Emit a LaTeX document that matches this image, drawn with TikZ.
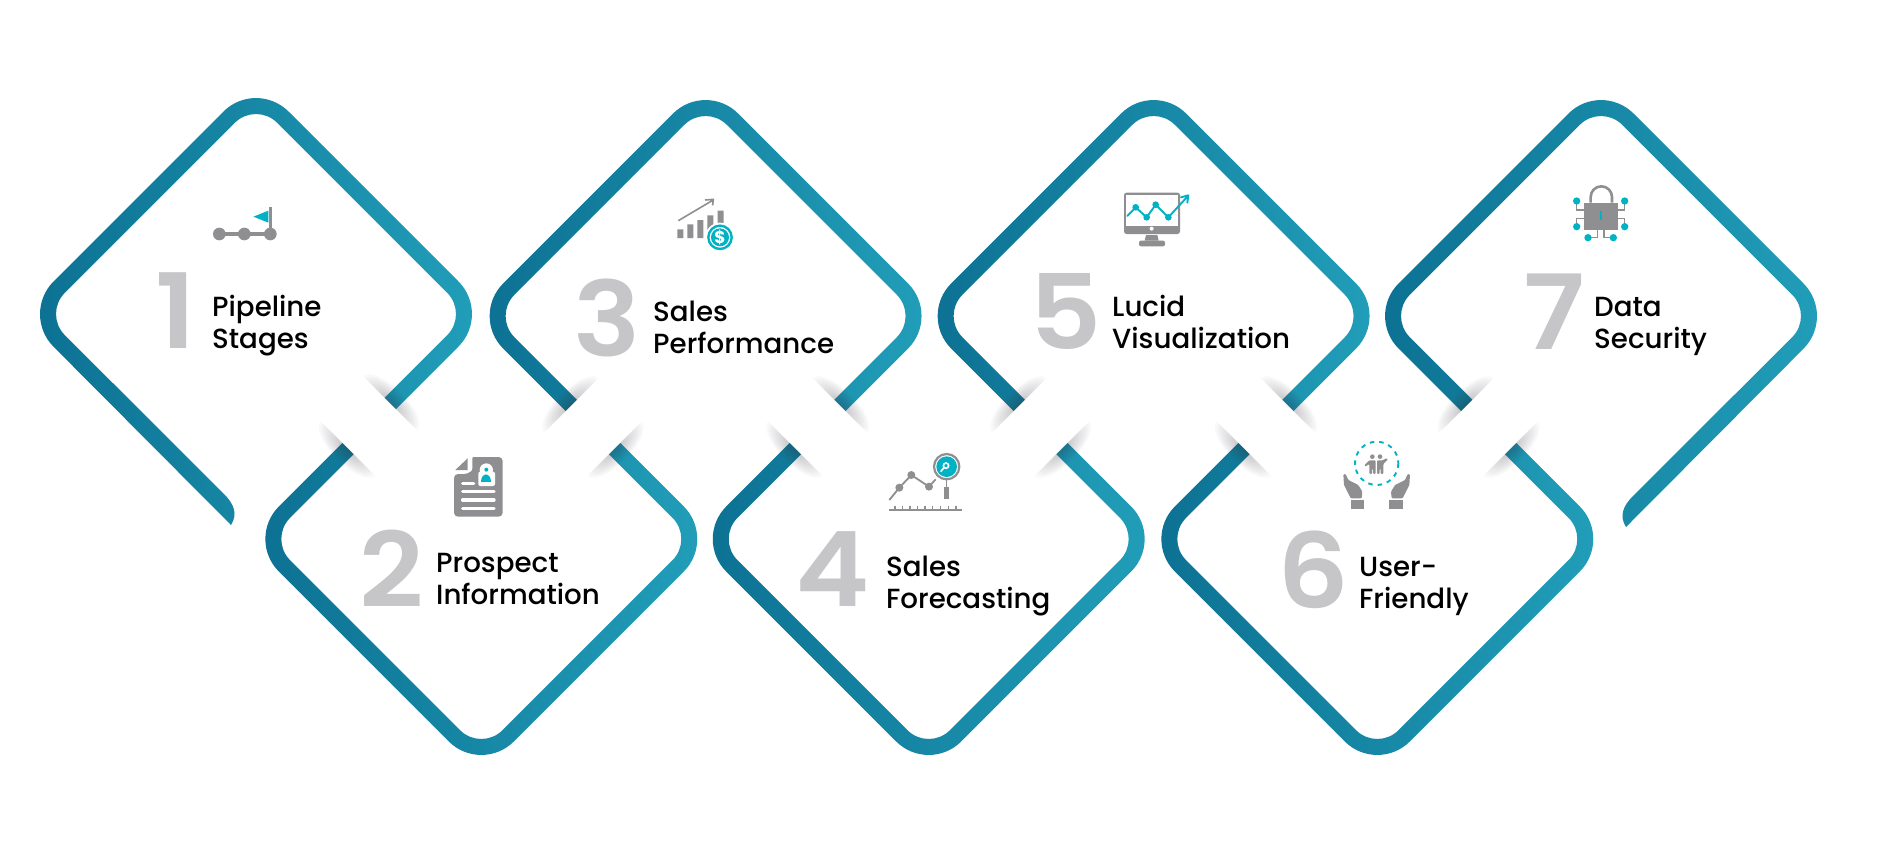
\documentclass[tikz,border=0pt]{standalone}
\usepackage{fontspec}
\setmainfont{Poppins}
\newfontfamily\labfont{Poppins Medium}
\newfontfamily\numfont{Poppins SemiBold}[FakeStretch=1.08]
\definecolor{bandL}{HTML}{0C7092}
\definecolor{bandR}{HTML}{229FBA}
\definecolor{numgray}{HTML}{C6C5C8}
\definecolor{icongray}{HTML}{8F8E91}
\definecolor{iconteal}{HTML}{00B2C3}
\definecolor{shadowc}{HTML}{3A3440}
\tikzset{
  bandfill/.style={left color=bandL, right color=bandR, draw=none},
  numlabel/.style={font=\numfont\fontsize{104}{104}\selectfont, text=numgray, anchor=base, inner sep=0pt},
  textlabel/.style={font=\labfont\fontsize{27.7}{32}\selectfont, text=black, anchor=base west, align=left, inner sep=0pt},
  zoomed/.style={x=0.33333pt,y=-0.33333pt},
  gline/.style={draw=icongray, line cap=butt},
  tline/.style={draw=iconteal, line cap=round, line join=round}
}
% soft shadow on the band side of a cut
\newcommand{\cutshade}[4]{%
  \begin{scope}[shift={(#1,#2)},rotate=#3]
    \clip (-60,0) rectangle (60,#4*30);
    \foreach \k in {1,...,12}
      \fill[shadowc, opacity=0.028] (0,0) ellipse [x radius=3.2*\k, y radius=1.25*\k];
  \end{scope}}
% top diamond with a cut on both lower sides
\newcommand{\topband}[2]{%
  \begin{scope}[shift={(#1,#2)}]
    \shade[bandfill] (-140,95) [rounded corners=46] -- (-235,0) -- (0,-235) -- (235,0) [sharp corners] -- (140,95) -- (128.7,83.7) [rounded corners=30] -- (212.4,0) -- (0,-212.4) -- (-212.4,0) [sharp corners] -- (-128.7,83.7) -- cycle;
    \cutshade{134.35}{89.35}{-45}{-1}
    \cutshade{-134.35}{89.35}{45}{-1}
  \end{scope}}
% bottom diamond with a cut on both upper sides
\newcommand{\lowband}[2]{%
  \begin{scope}[shift={(#1,#2)}]
    \shade[bandfill] (-139,-96) [rounded corners=46] -- (-235,0) -- (0,235) -- (235,0) [sharp corners] -- (139,-96) -- (127.7,-84.7) [rounded corners=30] -- (212.4,0) -- (0,212.4) -- (-212.4,0) [sharp corners] -- (-127.7,-84.7) -- cycle;
    \cutshade{-133.35}{-90.35}{-45}{1}
    \cutshade{133.35}{-90.35}{45}{1}
  \end{scope}}
\begin{document}
\begin{tikzpicture}[x=1pt,y=-1pt]
\useasboundingbox (0,0) rectangle (1901,862);
\fill[white] (0,0) rectangle (1901,862);

% first diamond: long tail on the lower left
\begin{scope}[shift={(256,314)}]
  \shade[bandfill] (-25,211) [rounded corners=46] -- (-235,0) -- (0,-235) -- (235,0) [sharp corners] -- (140,95) -- (128.7,83.7) [rounded corners=30] -- (212.4,0) -- (0,-212.4) -- (-212.4,0) [sharp corners] -- (-32,180) .. controls (-22,190) and (-18,200) .. (-25,211) -- cycle;
  \cutshade{134.35}{89.35}{-45}{-1}
\end{scope}
\lowband{481.3}{539}
\topband{705.6}{316}
\lowband{928.7}{539}
\topband{1153.6}{316}
\lowband{1377.3}{539}
% last diamond: long tail on the lower right
\begin{scope}[shift={(1601,316)}]
  \shade[bandfill] (-140,95) [rounded corners=46] -- (-235,0) -- (0,-235) -- (235,0) [sharp corners] -- (25,211) .. controls (18,200) and (22,190) .. (32,180) [rounded corners=30] -- (212.4,0) -- (0,-212.4) -- (-212.4,0) [sharp corners] -- (-128.7,83.7) -- cycle;
  \cutshade{-134.35}{89.35}{45}{-1}
\end{scope}

% numbers
\node[numlabel] (n1) at (176,348) {1};
\node[numlabel] (n2) at (392,607) {2};
\node[numlabel] (n3) at (607,356) {3};
\node[numlabel] (n4) at (833,606) {4};
\node[numlabel] (n5) at (1066,349) {5};
\node[numlabel] (n6) at (1313,608) {6};
\node[numlabel] (n7) at (1554,349) {7};

% labels
\node[textlabel] (t1) at (212,348) {Pipeline\\Stages};
\node[textlabel] (t2) at (436,604) {Prospect\\Information};
\node[textlabel] (t3) at (653,353) {Sales\\Performance};
\node[textlabel] (t4) at (886,608) {Sales\\Forecasting};
\node[textlabel] (t5) at (1112,348) {Lucid\\Visualization};
\node[textlabel] (t6) at (1359,608) {User-\\Friendly};
\node[textlabel] (t7) at (1594,348) {Data\\Security};

% icon 1: pipeline flag
\begin{scope}[shift={(180,180)},zoomed]
  \draw[gline,line width=4pt] (118,162) -- (271,162);
  \draw[gline,line width=3.5pt] (271,162) -- (271,82);
  \fill[icongray] (118,162) circle [radius=19] (193,162) circle [radius=19] (271,162) circle [radius=19];
  \fill[iconteal] (220,110) -- (265,92) -- (265,128) -- cycle;
\end{scope}

% icon 2: prospect sheet
\begin{scope}[shift={(320,370)},zoomed]
  \fill[icongray, rounded corners=4pt] (457,261) -- (548,261) -- (548,440) -- (402,440) -- (402,312) -- (445,312) [rounded corners=1pt] -- (457,300) -- cycle;
  \fill[icongray] (443,265) -- (443,300) -- (406,300) -- cycle;
  \fill[white] (499,300) circle [radius=20];
  \fill[white, rounded corners=2pt] (475,305) rectangle (525,348);
  \fill[iconteal] (499,299) circle [radius=6];
  \fill[iconteal] (484,335) .. controls (484,305) and (514,305) .. (514,335) -- cycle;
  \draw[white, line width=3.4pt, line cap=round] (428,341) -- (461,341) (428,365) -- (522,365) (428,390) -- (522,390) (428,415) -- (522,415);
\end{scope}

% icon 3: sales chart
\begin{scope}[shift={(650,180)},zoomed]
  \fill[icongray] (82,148) rectangle (100,174) (112,133) rectangle (130,174) (142,120) rectangle (160,174) (172,106) rectangle (190,174) (203,92) rectangle (221,174);
  \draw[gline,line width=1.6pt] (85,122) -- (188,61) (165,60) -- (190,58) -- (188,76);
  \fill[white] (210,172) circle [radius=44];
  \draw[iconteal, line width=2.4pt] (210,172) circle [radius=35];
  \fill[iconteal] (210,172) circle [radius=27];
  \node[font=\bfseries\fontsize{17}{17}\selectfont, text=white, inner sep=0pt] (dollar) at (210,172) {\$};
\end{scope}

% icon 4: forecasting
\begin{scope}[shift={(870,440)},zoomed]
  \draw[gline,line width=1.8pt] (58,180) -- (88,143) -- (124,105) -- (177,140) -- (197,118);
  \fill[icongray] (88,143) circle [radius=12] (124,105) circle [radius=12] (177,140) circle [radius=12];
  \draw[gline,line width=1.5pt] (58,210) -- (276,210) (75,197) -- (75,210) (98,197) -- (98,210) (120,197) -- (120,210) (143,197) -- (143,210) (165,197) -- (165,210) (188,197) -- (188,210) (212,197) -- (212,210) (235,197) -- (235,210) (258,197) -- (258,210);
  \draw[gline,line width=2.2pt] (230,80) circle [radius=38];
  \fill[iconteal] (230,80) circle [radius=31];
  \draw[white,line width=1.6pt] (228,77) circle [radius=8] (222,83) -- (212,95);
  \draw[gline,line width=1.5pt] (229,118) -- (229,140);
  \fill[icongray] (222,140) rectangle (236,178);
\end{scope}

% icon 5: monitor
\begin{scope}[shift={(1100,180)},zoomed]
  \fill[icongray, rounded corners=2.5pt] (72,38) rectangle (240,162);
  \fill[white] (78,44) rectangle (235,137);
  \fill[white] (155,146) circle [radius=6];
  \fill[icongray] (138,165) -- (172,165) -- (176,182) -- (134,182) -- cycle;
  \fill[icongray, rounded corners=2pt] (117,182) rectangle (195,199);
  \draw[tline,line width=1.9pt] (82,108) -- (107,82) -- (140,112) -- (167,74) -- (205,112) -- (262,50) (243,52) -- (265,46) -- (262,68);
  \fill[iconteal] (107,82) circle [radius=10] (140,112) circle [radius=10] (167,74) circle [radius=10] (205,112) circle [radius=10];
\end{scope}

% icon 6: hands and people
\begin{scope}[shift={(1330,430)},zoomed]
  \draw[iconteal, line width=1.9pt, dash pattern=on 4.5pt off 5pt] (140,100) circle [radius=65];
  \fill[icongray] (127,80) circle [radius=7] (150,80) circle [radius=7];
  \fill[icongray, rounded corners=1pt] (118,91) -- (137,91) -- (137,132) -- (129,132) -- (129,116) -- (126,116) -- (126,132) -- (118,132) -- (118,102) -- (106,110) -- (103,106) -- cycle;
  \fill[icongray, rounded corners=1pt] (141,91) -- (158,91) -- (170,84) -- (174,88) -- (160,102) -- (160,132) -- (152,132) -- (152,116) -- (149,116) -- (149,132) -- (141,132) -- cycle;
  \foreach \s/\o in {1/0,-1/280} {
    \begin{scope}[xshift=\o*0.33333pt, x=\s*0.33333pt]
      \fill[icongray, rounded corners=1pt] (40,133) -- (47,132) -- (55,150) -- (85,165) -- (97,185) -- (95,205) -- (62,205) -- (42,165) -- cycle;
      \fill[icongray] (62,209) rectangle (102,238);
    \end{scope}
  }
\end{scope}

% icon 7: lock
\begin{scope}[shift={(1550,175)},zoomed]
  \draw[gline,line width=2.6pt] (122,83) -- (122,66) arc [start angle=180, end angle=360, radius=32] -- (186,83);
  \draw[gline,line width=1.5pt] (80,78) -- (80,105) -- (103,105) (224,78) -- (224,105) -- (203,105) (80,155) -- (80,130) -- (103,130) (224,155) -- (224,130) -- (203,130) (114,188) -- (143,188) -- (143,165) (190,188) -- (162,188) -- (162,165);
  \fill[icongray] (103,83) rectangle (203,165);
  \fill[iconteal] (150,108) rectangle (157,135);
  \foreach \p in {(80,78),(224,78),(80,155),(224,155),(114,188),(190,188)} \fill[iconteal] \p circle [radius=11];
\end{scope}
\end{tikzpicture}
\end{document}
